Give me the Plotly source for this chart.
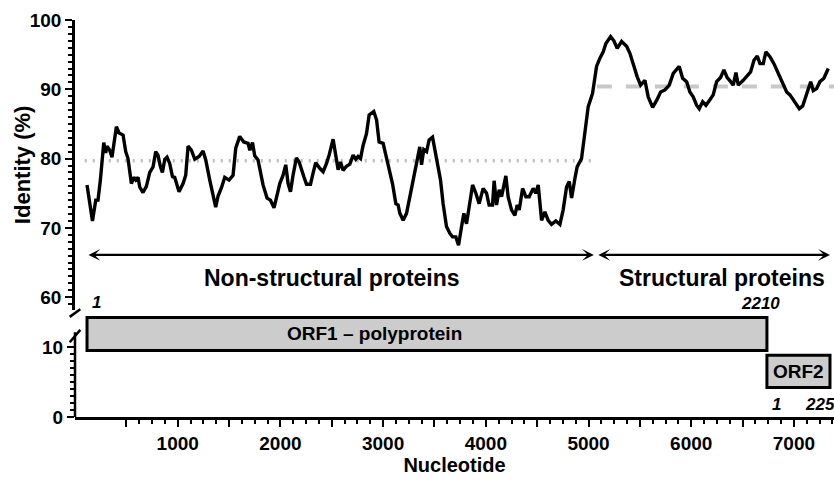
import plotly.graph_objects as go

# ---- data ----
nucleotide = [117,170,202,224,247,280,299,312,338,360,403,429,468,494,516,549,572,591,614,630,662,695,728,760,786,808,832,851,874,896,922,949,971,1013,1052,1078,1101,1134,1166,1208,1247,1273,1312,1338,1370,1393,1426,1458,1500,
              1539,1565,1604,1643,1685,1702,1728,1750,1782,1806,1831,1870,1903,1938,1962,1994,2026,2052,2075,2098,2123,2156,2182,2205,2228,2254,2293,2318,2344,2383,2416,2449,2474,2513,2539,2562,2585,2610,2643,2676,2708,2734,2756,2780,2805,2838,2864,2909,2936,2961,
              3000,3049,3091,3124,3146,3163,3195,3228,3260,3292,3331,3357,3374,3396,3423,3448,3481,3503,3536,3559,3584,3617,3650,3676,3708,3734,3764,3786,3812,3844,3871,3903,3935,3974,4007,4032,4065,4081,4104,4130,4153,4195,4217,4250,4283,4305,4325,4358,4390,4422,
              4461,4487,4510,4543,4575,4607,4640,4682,4721,4753,4786,4812,4835,4867,4889,4932,4964,4997,5039,5078,5111,5143,5169,5215,5247,5279,5322,5371,5403,5435,5474,5507,5549,5581,5624,5663,5702,5744,5786,5825,5883,
              5916,5955,5987,6019,6052,6078,6111,6143,6182,6214,6247,6286,6318,6350,6384,6409,6435,6458,6506,6539,6578,6611,6643,6669,6701,6727,6766,6805,6847,6896,6929,6961,7010,7052,7085,7124,7163,7188,7221,7253,7292,7334]
identity = [76.2,71.0,74.0,74.0,76.9,82.3,80.8,81.8,81.2,80.2,84.6,83.7,83.4,81.0,80.0,76.4,77.3,76.9,77.3,75.9,75.1,76.0,78.0,78.8,81.0,80.5,78.8,78.0,79.9,80.2,79.3,77.4,77.3,75.2,76.4,77.6,81.8,81.2,79.9,80.3,81.1,79.8,76.9,75.0,73.0,74.6,75.8,77.3,76.9,
            77.6,81.5,83.2,82.4,82.2,81.2,82.3,80.4,79.8,78.1,76.2,74.3,74.0,72.9,74.5,76.4,77.6,79.1,76.4,75.2,77.6,80.1,79.5,78.3,77.4,76.3,76.3,77.9,79.4,78.6,78.1,79.3,80.5,82.8,80.5,78.4,79.5,78.3,78.9,79.2,80.5,79.9,80.3,80.0,81.9,83.6,86.3,86.8,85.6,82.4,
            82.2,79.1,76.4,73.5,73.3,72.1,71.1,72.1,74.5,77.4,79.8,81.7,79.1,81.3,81.0,82.7,83.1,81.2,78.3,76.9,73.5,70.2,69.2,68.7,68.7,67.5,70.2,72.1,70.6,73.5,76.2,75.0,73.5,75.7,75.0,73.3,73.3,76.8,73.3,75.5,74.5,77.5,74.5,72.6,71.8,73.3,72.6,75.7,74.5,74.5,
            75.7,75.0,76.2,71.1,72.3,71.1,70.5,71.0,70.5,72.6,75.9,76.7,74.3,77.1,78.8,80.0,84.1,87.5,89.4,93.3,94.5,95.4,96.6,97.6,97.0,95.9,96.9,96.2,95.2,93.5,91.8,90.6,91.3,88.9,87.4,88.4,89.6,89.9,90.6,92.3,93.3,
            91.6,91.1,89.6,88.9,87.7,87.2,88.2,87.7,88.5,89.2,91.1,91.7,92.8,91.7,91.1,90.6,92.4,90.6,91.3,91.8,92.5,94.2,94.8,93.7,93.7,95.4,94.7,93.7,92.3,90.6,89.6,89.2,88.2,87.2,87.6,89.2,91.1,89.8,90.1,91.1,91.6,93.0]

# region means
nonstruct_mean = 79.7
nonstruct_span = [95, 5025]
struct_mean = 90.4
struct_span = [5081, 7390]

# region arrows
region_labels = ["Non-structural proteins", "Structural proteins"]
region_spans = [[117, 5052], [5081, 7351]]
region_label_x = [2500, 6300]
arrow_level = 66.1
region_label_level = 62.7

# ORF boxes (nucleotide start/end, lower-axis y bottom/top)
orf_labels = ["ORF1 \u2013 polyprotein", "ORF2"]
orf_start = [117, 6737]
orf_end = [6737, 7351]
orf_ybot = [9.5, 4.2]
orf_ytop = [14.2, 8.8]
orf_label_x = [2919, 7049]

# x ticks
x_major = list(range(500, 7001, 500))
x_major_text = [str(v) if v % 1000 == 0 else "" for v in x_major]
x_minor = [v for v in range(625, 7390, 125) if v % 500 != 0]
y_upper_ticks = [60, 70, 80, 90, 100]
y_upper_minor = [v for v in range(59, 100) if v % 10 != 0]
y_lower_ticks = [0, 10]
y_lower_minor = list(range(1, 10))

FONT = "Liberation Sans, Arial, Helvetica, sans-serif"

fig = go.Figure()
fig.add_trace(go.Scatter(x=nonstruct_span, y=[nonstruct_mean] * 2, mode="lines",
                         line=dict(color="#bdbdbd", width=3.5, dash="2px,6px"),
                         xaxis="x", yaxis="y", hoverinfo="skip"))
fig.add_trace(go.Scatter(x=struct_span, y=[struct_mean] * 2, mode="lines",
                         line=dict(color="#c8c8c8", width=4, dash="15px,14px"),
                         xaxis="x", yaxis="y", hoverinfo="skip"))
fig.add_trace(go.Scatter(x=nucleotide, y=identity, mode="lines",
                         line=dict(color="black", width=3.4),
                         xaxis="x", yaxis="y"))

shapes = []
for s, e, yb, yt in zip(orf_start, orf_end, orf_ybot, orf_ytop):
    shapes.append(dict(type="rect", xref="x", yref="y2", x0=s, x1=e, y0=yb, y1=yt,
                       fillcolor="#cccccc", line=dict(color="black", width=3), layer="above"))
# lower y axis line (ends below the break)
shapes.append(dict(type="line", xref="x domain", yref="y2", x0=0, x1=0, y0=0, y1=12.1,
                   line=dict(color="black", width=2.5)))
# break marks
shapes.append(dict(type="line", xref="x domain", yref="y domain", x0=-0.007, x1=0.007,
                   y0=-0.023, y1=0.003, line=dict(color="black", width=2.5)))
shapes.append(dict(type="line", xref="x domain", yref="y2 domain", x0=-0.007, x1=0.007,
                   y0=0.72, y1=0.84, line=dict(color="black", width=2.5)))

annotations = []
for (a, b) in region_spans:
    annotations.append(dict(x=b, y=arrow_level, ax=a, ay=arrow_level, xref="x", yref="y",
                            axref="x", ayref="y", text="", showarrow=True, arrowhead=3,
                            startarrowhead=3, arrowside="end+start", arrowsize=0.9,
                            startarrowsize=0.9, arrowwidth=2.2, arrowcolor="black"))
for lab, xc in zip(region_labels, region_label_x):
    annotations.append(dict(x=xc, y=region_label_level, xref="x", yref="y", text=lab,
                            showarrow=False, font=dict(family=FONT, size=23, color="black", weight="bold")))
for lab, xc, yb, yt in zip(orf_labels, orf_label_x, orf_ybot, orf_ytop):
    annotations.append(dict(x=xc, y=(yb + yt) / 2, xref="x", yref="y2", text=lab,
                            showarrow=False, font=dict(family=FONT, size=19, color="black", weight="bold")))
ital = dict(family=FONT, size=17, color="black", weight="bold", style="italic")
annotations.append(dict(x=211, y=59.3, xref="x", yref="y", text="1", showarrow=False, font=ital))
annotations.append(dict(x=6678, y=59.1, xref="x", yref="y", text="2210", showarrow=False, font=ital))
annotations.append(dict(x=6834, y=1.8, xref="x", yref="y2", text="1", showarrow=False, font=ital))
annotations.append(dict(x=7085, y=1.8, xref="x", yref="y2", text="225", showarrow=False,
                        xanchor="left", font=ital))
# y axis title
annotations.append(dict(x=-0.0698, y=0.5, xref="paper", yref="y domain", text="Identity (%)",
                        textangle=-90, showarrow=False, xanchor="center", yanchor="middle",
                        font=dict(family=FONT, size=22, color="black", weight="bold")))

tickfont = dict(family=FONT, size=19, color="black", weight="bold")
titlefont = dict(family=FONT, size=20, color="black", weight="bold")
fig.update_layout(
    width=834, height=480,
    margin=dict(l=75, r=0, t=20, b=63),
    paper_bgcolor="white", plot_bgcolor="white",
    showlegend=False,
    shapes=shapes, annotations=annotations,
    xaxis=dict(anchor="y2", range=[0, 7390], showgrid=False, zeroline=False,
               showline=True, linecolor="black", linewidth=2.5,
               tickmode="array", tickvals=x_major, ticktext=x_major_text,
               ticks="outside", ticklen=7, tickwidth=2, tickcolor="black",
               tickfont=tickfont,
               minor=dict(tickmode="array", tickvals=x_minor, ticks="outside", ticklen=4,
                          tickwidth=1.5, tickcolor="black"),
               title=dict(text="Nucleotide", font=titlefont, standoff=4),
               automargin=False),
    yaxis=dict(domain=[0.269, 1], anchor="x", range=[58.12, 100], showgrid=False, zeroline=False,
               showline=True, linecolor="black", linewidth=2.5,
               tickmode="array", tickvals=y_upper_ticks,
               ticks="outside", ticklen=7, tickwidth=2, tickcolor="black", tickfont=tickfont,
               minor=dict(tickmode="array", tickvals=y_upper_minor, ticks="outside", ticklen=4,
                          tickwidth=1.5, tickcolor="black"),
               automargin=False),
    yaxis2=dict(domain=[0, 0.2614], anchor="x", range=[0, 14.81], showgrid=False, zeroline=False,
                showline=False,
                tickmode="array", tickvals=y_lower_ticks,
                ticks="outside", ticklen=7, tickwidth=2, tickcolor="black", tickfont=tickfont,
                minor=dict(tickmode="array", tickvals=y_lower_minor, ticks="outside", ticklen=4,
                           tickwidth=1.5, tickcolor="black"),
                automargin=False),
)

fig.write_html("out.html", config={"displayModeBar": False},
               post_script="document.body.style.margin='0';document.body.style.overflow='hidden';")
